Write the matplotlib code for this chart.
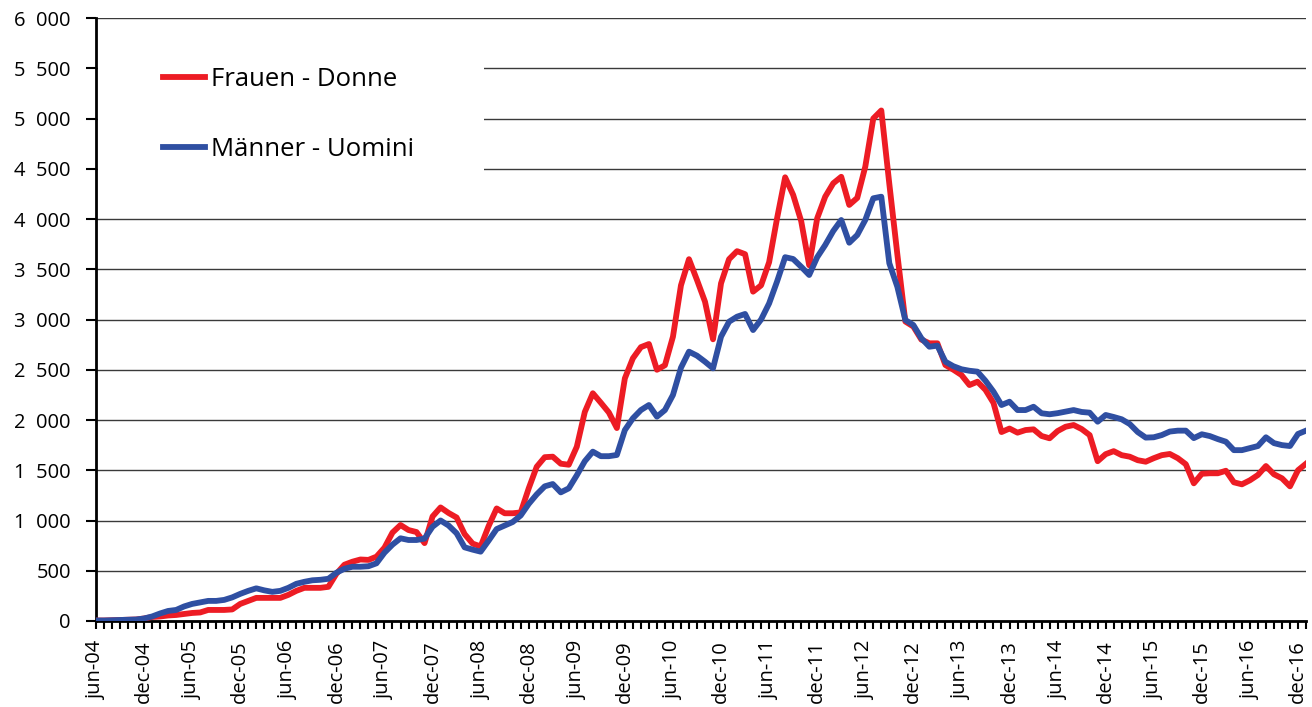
import matplotlib
matplotlib.use('Agg')
import matplotlib.pyplot as plt
from matplotlib.patches import Rectangle
import numpy as np

plt.rcParams['font.family'] = ['Open Sans', 'DejaVu Sans']

# Monthly values, jun-04 .. jan-17
frauen = [
    5, 5, 8, 10, 12, 15, 25, 40, 45, 55,
    60, 70, 80, 85, 110, 110, 110, 115, 170, 200,
    230, 230, 230, 230, 260, 300, 330, 330, 330, 340,
    470, 560, 590, 612, 608, 640, 730, 880, 955, 905,
    885, 775, 1040, 1130, 1075, 1030, 865, 770, 742, 945,
    1120, 1072, 1072, 1080, 1320, 1535, 1630, 1635, 1565, 1555,
    1734, 2080, 2266, 2172, 2075, 1920, 2415, 2614, 2725, 2756,
    2500, 2545, 2829, 3340, 3600, 3393, 3177, 2803, 3360, 3600,
    3680, 3650, 3277, 3340, 3570, 4010, 4415, 4240, 3980, 3540,
    4007, 4222, 4355, 4420, 4140, 4210, 4520, 5000, 5080, 4350,
    3650, 2980, 2930, 2800, 2763, 2763, 2547, 2500, 2448, 2348,
    2381, 2300, 2170, 1880, 1915, 1874, 1900, 1907, 1841, 1818,
    1890, 1933, 1950, 1910, 1850, 1590, 1660, 1690, 1650, 1635,
    1600, 1585, 1620, 1650, 1662, 1620, 1560, 1370, 1465, 1470,
    1470, 1495, 1380, 1360, 1400, 1453, 1542, 1460, 1420, 1340,
    1500, 1565,
]
maenner = [
    5, 5, 8, 10, 12, 15, 25, 45, 75, 100,
    110, 145, 170, 185, 200, 200, 210, 235, 270, 300,
    325, 305, 290, 300, 330, 370, 390, 405, 410, 420,
    480, 520, 540, 540, 545, 574, 680, 760, 823, 806,
    806, 820, 938, 1000, 950, 873, 733, 710, 690, 800,
    915, 950, 985, 1050, 1165, 1260, 1340, 1363, 1280, 1320,
    1450, 1590, 1685, 1640, 1640, 1652, 1900, 2017, 2099, 2149,
    2033, 2099, 2249, 2520, 2680, 2640, 2580, 2514, 2829, 2978,
    3028, 3055, 2895, 3000, 3160, 3380, 3620, 3602, 3525, 3443,
    3620, 3741, 3880, 3990, 3764, 3841, 3990, 4206, 4222, 3560,
    3326, 2995, 2945, 2813, 2729, 2740, 2580, 2535, 2505, 2490,
    2481, 2390, 2282, 2149, 2182, 2099, 2099, 2132, 2067, 2057,
    2068, 2083, 2099, 2080, 2073, 1983, 2050, 2030, 2007, 1960,
    1880, 1825, 1828, 1850, 1885, 1894, 1894, 1820, 1858, 1840,
    1810, 1784, 1700, 1700, 1720, 1741, 1828, 1770, 1750, 1741,
    1861, 1894,
]
tick_labels = [
    'jun-04', 'dec-04', 'jun-05', 'dec-05', 'jun-06', 'dec-06', 'jun-07',
    'dec-07', 'jun-08', 'dec-08', 'jun-09', 'dec-09', 'jun-10', 'dec-10',
    'jun-11', 'dec-11', 'jun-12', 'dec-12', 'jun-13', 'dec-13', 'jun-14',
    'dec-14', 'jun-15', 'dec-15', 'jun-16', 'dec-16',
]
y_ticks = [0, 500, 1000, 1500, 2000, 2500, 3000, 3500, 4000, 4500, 5000, 5500, 6000]
series_names = ['Frauen - Donne', 'Männer - Uomini']

W, H = 1312, 707
fig = plt.figure(figsize=(W / 100, H / 100), dpi=100)
ax = fig.add_axes([96 / W, 1 - 621 / H, (1306 - 96) / W, (621 - 18) / H])

x = np.arange(len(frauen))
ax.plot(x, frauen, color='#ED1C24', lw=4.2, label=series_names[0],
        solid_joinstyle='round', zorder=3)
ax.plot(x, maenner, color='#2F4FA2', lw=4.2, label=series_names[1],
        solid_joinstyle='round', zorder=4)

ax.set_xlim(0, len(frauen) - 1)
ax.set_ylim(0, 6000)

ax.set_yticks(y_ticks)
ax.set_yticklabels(['{:,}'.format(v).replace(',', '  ') for v in y_ticks], fontsize=14.5)
ax.yaxis.grid(True, color='#3a3a3a', lw=1)
ax.set_axisbelow(True)

ax.set_xticks(np.arange(0, len(frauen), 6))
ax.set_xticklabels(tick_labels, rotation=90, fontsize=14.5)
ax.set_xticks(np.arange(0, len(frauen)), minor=True)

for s in ['top', 'right']:
    ax.spines[s].set_visible(False)
for s in ['left', 'bottom']:
    ax.spines[s].set_linewidth(2)
    ax.spines[s].set_color('black')

ax.tick_params(axis='y', direction='out', length=7, width=1.5, pad=11)
ax.tick_params(axis='x', which='both', direction='out', length=6, width=1.5, pad=8)

# white box behind legend
ax.add_patch(Rectangle((0.002, (621 - 195) / 603), (483 - 97) / 1210, 150 / 603,
                       transform=ax.transAxes, facecolor='white', edgecolor='none', zorder=1.5))

leg = ax.legend(loc='upper left', bbox_to_anchor=((163 - 96) / 1210, (621 - 67) / 603),
                frameon=False, fontsize=18.5, handlelength=1.65, handletextpad=0.2,
                labelspacing=1.75, borderpad=0, borderaxespad=0)

fig.savefig('out.png', dpi=100)
